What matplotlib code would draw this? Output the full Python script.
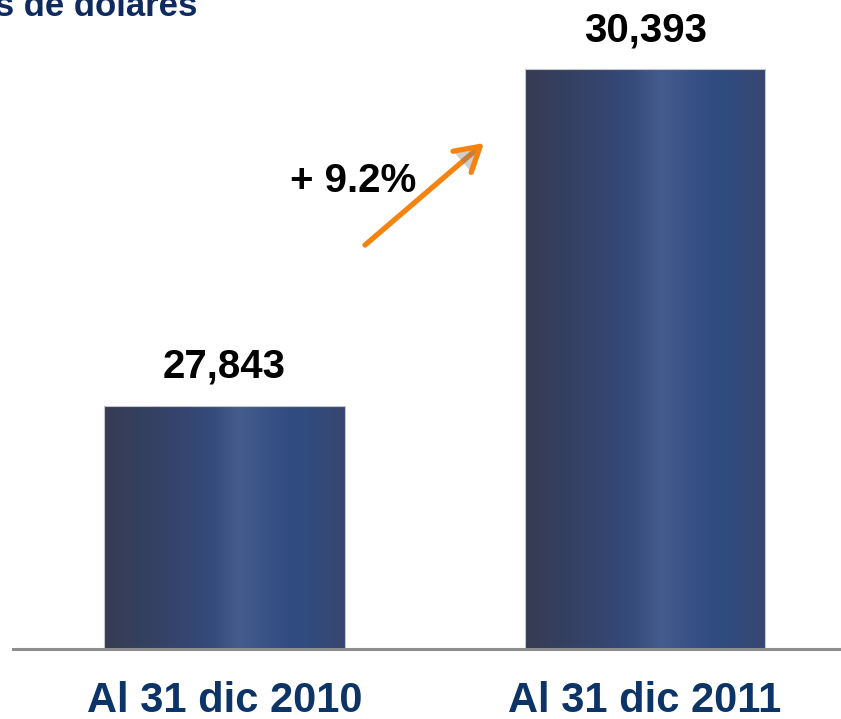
import numpy as np
import matplotlib
matplotlib.use("Agg")
from matplotlib import pyplot as plt
from matplotlib import patheffects
from matplotlib.colors import LinearSegmentedColormap

categories = ["Al 31 dic 2010", "Al 31 dic 2011"]
values = [27843, 30393]
value_labels = ["27,843", "30,393"]
title = "Millones de dólares"

growth = (values[1] / values[0] - 1) * 100
growth_label = f"+ {growth:.1f}%"

# bar shading stops, left -> right across each bar
shade = LinearSegmentedColormap.from_list("bar_shade", [
    (0.00, "#363c52"),
    (0.12, "#353f5d"),
    (0.30, "#34446c"),
    (0.45, "#354b7b"),
    (0.56, "#465c8e"),
    (0.66, "#3b5387"),
    (0.78, "#2f4c80"),
    (0.92, "#344a79"),
    (1.00, "#384670"),
])

fig = plt.figure(figsize=(8.41, 7.19), dpi=100)
ax = fig.add_axes([0, 70.5 / 719, 1, 648.5 / 719])

x = np.arange(len(values))
width = 0.571
y0 = 26000
bars = ax.bar(x, [v - y0 for v in values], width, bottom=y0,
              facecolor="none", edgecolor="#c4c7d0", linewidth=0.8, zorder=3)

grad = np.linspace(0, 1, 256).reshape(1, -1)
for rect in bars:
    bx, by = rect.get_x(), rect.get_y()
    im = ax.imshow(grad, cmap=shade, aspect="auto", zorder=2,
                   extent=(bx, bx + rect.get_width(), by, by + rect.get_height()))
    im.set_clip_path(rect)

ax.set_xlim(-0.534, 1.466)
ax.set_ylim(y0, 30919)
ax.axis("off")

ax.axhline(y0, xmin=13 / 841, xmax=1, color="#8e8e8e", linewidth=2.2,
           zorder=4, clip_on=False)

for xi, v, lab in zip(x, values, value_labels):
    ax.annotate(lab, (xi, v), xytext=(0, 20), textcoords="offset points",
                ha="center", va="baseline", fontsize=29, fontweight="bold",
                family="Liberation Sans", color="black")

for xi, cat in zip(x, categories):
    ax.annotate(cat, (xi, 0), xycoords=("data", "axes fraction"),
                xytext=(0, -46), textcoords="offset points",
                ha="center", va="baseline", fontsize=30, fontweight="bold",
                family="Liberation Sans", color="#0d3466")

arrow = ax.annotate("", xy=(0.617, 29834), xytext=(0.334, 29060),
                    arrowprops=dict(arrowstyle="->,head_length=0.85,head_width=0.5",
                                    color="#f5830f", lw=3.8, mutation_scale=20,
                                    shrinkA=0, shrinkB=0))
arrow.arrow_patch.set_path_effects([
    patheffects.SimplePatchShadow(offset=(1.5, -1.5), shadow_rgbFace="#777777", alpha=0.35),
    patheffects.Normal()])

ax.text(0.307, 29463, growth_label, ha="center", va="baseline",
        fontsize=29, fontweight="bold", family="Liberation Sans", color="black")

fig.text(197 / 841, 1 - 15.5 / 719, title, ha="right", va="baseline",
         fontsize=25, fontweight="bold", family="Liberation Sans", color="#0f2a5f")

fig.savefig("out.png", dpi=100)
